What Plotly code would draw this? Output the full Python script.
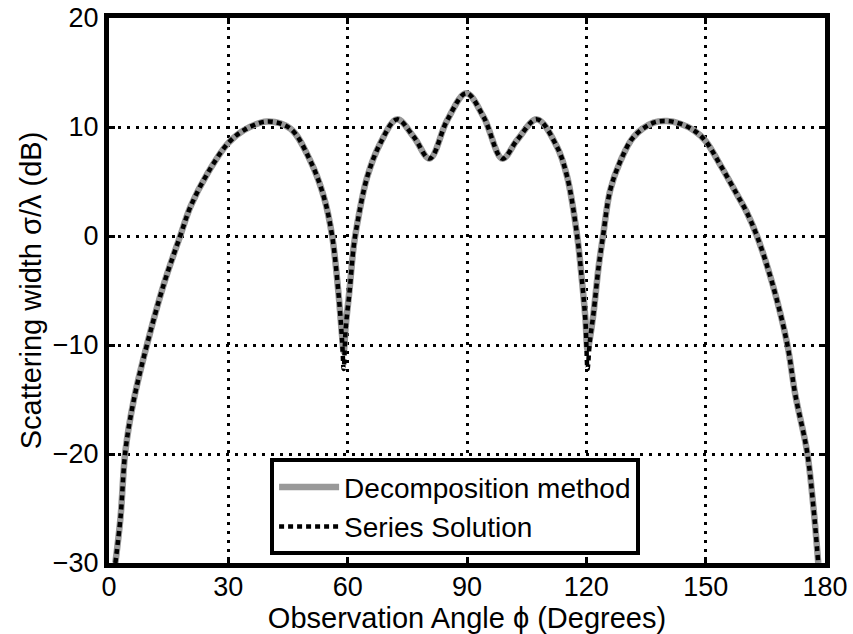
import plotly.graph_objects as go

# Observation angle (degrees)
angle_deg = [1.6, 2.9, 4.1, 6.2, 9.6, 13.8, 17.9, 20.5, 24.7, 29.9, 33.9, 39.7, 45.6, 50.6,
             54.0, 56.1, 57.7, 58.6, 59.0, 59.5, 60.5, 61.5, 62.4, 64.9, 68.2, 72.4, 76.6,
             80.6, 85.0, 89.8, 94.2, 98.9, 102.6, 107.6, 112.6, 115.2, 117.7, 118.9, 119.8,
             120.3, 120.9, 121.8, 123.1, 124.2, 126.0, 128.6, 131.9, 136.9, 140.3, 143.6,
             147.0, 150.0, 153.7, 157.9, 160.3, 162.9, 166.8, 170.5, 172.5, 175.5, 177.1, 178.3]

# Decomposition method (dB)
decomp_db = [-30.0, -25.8, -19.8, -15.1, -9.9, -4.4, 0.0, 2.7, 5.7, 8.5, 9.7, 10.5, 9.85, 6.9,
             3.6, 0.0, -5.3, -9.2, -10.6, -8.3, -4.8, -1.0, 1.1, 5.4, 8.5, 10.7, 9.1,
             7.1, 10.6, 13.1, 10.9, 7.1, 8.8, 10.7, 8.2, 5.4, 0.0, -4.1, -7.7,
             -10.4, -9.4, -7.1, -2.8, 0.0, 4.2, 6.9, 9.1, 10.4, 10.55, 10.3,
             9.7, 8.7, 6.5, 3.8, 2.2, 0.0, -4.4, -9.9, -14.5, -19.8, -24.9, -30.0]

# Series solution (dB)
series_db = [-30.0, -25.8, -19.8, -15.1, -9.9, -4.4, 0.0, 2.7, 5.7, 8.5, 9.7, 10.5, 9.85, 6.9,
             3.6, 0.0, -5.3, -9.6, -12.2, -8.5, -5.0, -1.0, 1.1, 5.4, 8.5, 10.7, 9.1,
             7.1, 10.6, 13.1, 10.9, 7.1, 8.8, 10.7, 8.2, 5.4, 0.0, -4.1, -7.9,
             -12.2, -9.6, -7.1, -2.8, 0.0, 4.2, 6.9, 9.1, 10.4, 10.55, 10.3,
             9.7, 8.7, 6.5, 3.8, 2.2, 0.0, -4.4, -9.9, -14.5, -19.8, -24.9, -30.0]

x_ticks = [0, 30, 60, 90, 120, 150, 180]
y_ticks = [-30, -20, -10, 0, 10, 20]

FONT = "Liberation Sans, Arial, Helvetica, sans-serif"

fig = go.Figure()
fig.add_trace(go.Scatter(
    x=angle_deg, y=decomp_db, mode="lines", name="Decomposition method",
    line=dict(color="#999999", width=6.5, shape="spline", smoothing=1.0),
))
fig.add_trace(go.Scatter(
    x=angle_deg, y=series_db, mode="lines", name="Series Solution",
    line=dict(color="black", width=4.5, dash="5px,4px", shape="spline", smoothing=1.0),
))

axis_common = dict(
    showline=True, linecolor="black", linewidth=5, mirror="allticks",
    ticks="inside", ticklen=6, tickwidth=3, tickcolor="black",
    showgrid=True, gridcolor="black", gridwidth=2.5, griddash="2.5px,6.5px",
    zeroline=False, tickfont=dict(family=FONT, size=27, color="black"),
    automargin=False,
)

fig.update_xaxes(
    range=[0, 180], tickvals=x_ticks, ticktext=[str(v) for v in x_ticks],
    ticklabelstandoff=-4,
    title=dict(text="Observation Angle ϕ (Degrees)", standoff=2,
               font=dict(family=FONT, size=29, color="black")),
    **axis_common,
)
fig.update_yaxes(
    range=[-30, 20], tickvals=y_ticks, ticktext=[("\u2212" + str(-v)) if v < 0 else str(v) for v in y_ticks],
    title=dict(text="Scattering width σ/λ (dB)", standoff=4,
               font=dict(family=FONT, size=29, color="black")),
    **axis_common,
)

fig.update_layout(
    width=853, height=634,
    margin=dict(l=109, r=28, t=18, b=71),
    paper_bgcolor="white", plot_bgcolor="white",
    font=dict(family=FONT, color="black"),
    showlegend=True,
    legend=dict(
        x=0.225, y=0.103, xanchor="left", yanchor="middle",
        bgcolor="white", bordercolor="black", borderwidth=4,
        font=dict(family=FONT, size=28, color="black"),
        itemwidth=60, tracegroupgap=0,
    ),
)

fig.write_html("out.html")
